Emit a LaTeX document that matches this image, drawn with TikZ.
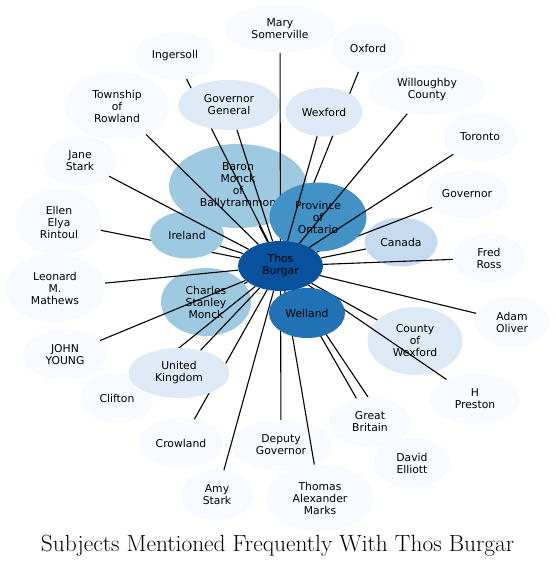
\documentclass[tikz,border=0pt]{standalone}
\usepackage{fontspec}
\usepackage{xcolor}
\usepackage{tikz}
\usetikzlibrary{shapes.geometric}
\newfontfamily\labelfont{DejaVu Sans}
\definecolor{hubblue}{RGB}{8,81,156}
\definecolor{deepblue}{RGB}{33,113,181}
\definecolor{midblue}{RGB}{66,146,198}
\definecolor{softblue}{RGB}{158,202,225}
\definecolor{paleblue}{RGB}{198,219,239}
\definecolor{light}{RGB}{222,235,247}
\definecolor{pale}{RGB}{247,251,255}
\pgfdeclarelayer{front}
\pgfsetlayers{main,front}
\tikzset{
    subj/.style={ellipse,draw=none,fill=#1,inner sep=0pt,align=center,font=\labelfont\fontsize{10.8}{12}\selectfont},
    link/.style={line width=1.1pt},
}

\begin{document}
\begin{tikzpicture}[x=1pt,y=-1pt]
\useasboundingbox (0,0) rectangle (555,568);
\begin{pgfonlayer}{front}
\node[subj=hubblue,minimum width=85pt,minimum height=50pt] (hub) at (280.5,266) {Thos\\Burgar};
\end{pgfonlayer}
\node[subj=softblue,minimum width=138pt,minimum height=84pt] (baron) at (238,186) {Baron\\Monck\\of\\Ballytrammon};
\draw[link] (hub) -- (baron);
\node[subj=softblue,minimum width=90pt,minimum height=68pt] (charles) at (206,302) {Charles\\Stanley\\Monck};
\draw[link] (hub) -- (charles);
\node[subj=pale,minimum width=86pt,minimum height=66pt] (ellen) at (59,222) {Ellen\\Elya\\Rintoul};
\draw[link] (hub) -- (ellen);
\node[subj=softblue,minimum width=74pt,minimum height=47pt] (ireland) at (187,235) {Ireland};
\draw[link] (hub) -- (ireland);
\node[subj=pale,minimum width=73pt,minimum height=50pt] (jane) at (80,161) {Jane\\Stark};
\draw[link] (hub) -- (jane);
\node[subj=pale,minimum width=105pt,minimum height=68pt] (rowland) at (117,106) {Township\\of\\Rowland};
\draw[link] (hub) -- (rowland);
\node[subj=pale,minimum width=80pt,minimum height=48pt] (ingersoll) at (175,56) {Ingersoll};
\draw[link] (hub) -- (ingersoll);
\node[subj=light,minimum width=102pt,minimum height=50pt] (govgen) at (229,105) {Governor\\General};
\draw[link] (hub) -- (govgen);
\node[subj=pale,minimum width=112pt,minimum height=48pt] (mary) at (280,29) {Mary\\Somerville};
\draw[link] (hub) -- (mary);
\node[subj=pale,minimum width=73pt,minimum height=49pt] (oxford) at (368,48) {Oxford};
\draw[link] (hub) -- (oxford);
\node[subj=paleblue,minimum width=73pt,minimum height=49pt] (canada) at (401,242) {Canada};
\draw[link] (hub) -- (canada);
\node[subj=pale,minimum width=83pt,minimum height=48pt] (governor) at (467,194) {Governor};
\draw[link] (hub) -- (governor);
\node[subj=midblue,minimum width=97pt,minimum height=69pt] (ontario) at (318,217) {Province\\of\\Ontario};
\draw[link] (hub) -- (ontario);
\node[subj=light,minimum width=77pt,minimum height=49pt] (wexford) at (324,112) {Wexford};
\draw[link] (hub) -- (wexford);
\node[subj=pale,minimum width=118pt,minimum height=50pt] (willoughby) at (427,90) {Willoughby\\County};
\draw[link] (hub) -- (willoughby);
\node[subj=pale,minimum width=74pt,minimum height=49pt] (toronto) at (480,137) {Toronto};
\draw[link] (hub) -- (toronto);
\node[subj=pale,minimum width=72pt,minimum height=48pt] (fred) at (489,258) {Fred\\Ross};
\draw[link] (hub) -- (fred);
\node[subj=pale,minimum width=101pt,minimum height=68pt] (leonard) at (55,288) {Leonard\\M.\\Mathews};
\draw[link] (hub) -- (leonard);
\node[subj=pale,minimum width=85pt,minimum height=50pt] (john) at (65,355) {JOHN\\YOUNG};
\draw[link] (hub) -- (john);
\node[subj=pale,minimum width=73pt,minimum height=49pt] (clifton) at (117,398) {Clifton};
\draw[link] (hub) -- (clifton);
\node[subj=pale,minimum width=84pt,minimum height=50pt] (crowland) at (181,443) {Crowland};
\draw[link] (hub) -- (crowland);
\node[subj=light,minimum width=101pt,minimum height=50pt] (kingdom) at (179,373) {United\\Kingdom};
\draw[link] (hub) -- (kingdom);
\node[subj=pale,minimum width=103pt,minimum height=50pt] (deputy) at (281,445) {Deputy\\Governor};
\draw[link] (hub) -- (deputy);
\node[subj=pale,minimum width=73pt,minimum height=50pt] (amy) at (217,495) {Amy\\Stark};
\draw[link] (hub) -- (amy);
\node[subj=light,minimum width=95pt,minimum height=68pt] (cowexford) at (415,341) {County\\of\\Wexford};
\draw[link] (hub) -- (cowexford);
\node[subj=pale,minimum width=90pt,minimum height=50pt] (preston) at (475,399) {H\\Preston};
\draw[link] (hub) -- (preston);
\node[subj=pale,minimum width=77pt,minimum height=50pt] (david) at (412,463) {David\\Elliott};
\draw[link] (hub) -- (david);
\node[subj=pale,minimum width=82pt,minimum height=50pt] (britain) at (370,422) {Great\\Britain};
\draw[link] (hub) -- (britain);
\node[subj=pale,minimum width=108pt,minimum height=67pt] (marks) at (320,498) {Thomas\\Alexander\\Marks};
\draw[link] (hub) -- (marks);
\node[subj=pale,minimum width=76pt,minimum height=50pt] (adam) at (512,322) {Adam\\Oliver};
\draw[link] (hub) -- (adam);
\node[subj=deepblue,minimum width=76pt,minimum height=50pt] (welland) at (307,313) {Welland};
\draw[link] (hub) -- (welland);
\node[font=\fontsize{23.4}{28}\selectfont] (title) at (277.5,546) {Subjects Mentioned Frequently With Thos Burgar};
\end{tikzpicture}
\end{document}
